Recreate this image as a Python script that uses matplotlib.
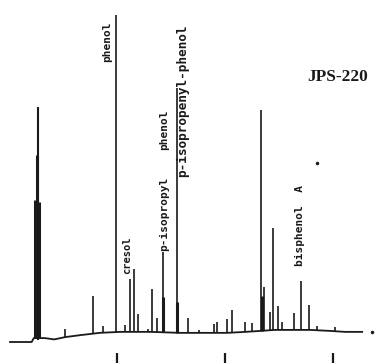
import numpy as np
import matplotlib
matplotlib.use("Agg")
import matplotlib.pyplot as plt

# retention time (min) and detector signal (% of phenol peak)
base_t = [0.1, 2.1, 2.3, 3.3, 4.2, 5.2, 6.6, 8.4, 10.3, 13.1, 15.8, 17.7, 20.2, 21.9, 23.3, 24.6, 26.0, 27.9, 29.7, 31.1, 32.7]
base_s = [0.0, 0.0, 1.2, 1.2, 0.8, 1.5, 2.1, 2.8, 3.1, 3.1, 2.8, 2.8, 2.8, 3.1, 3.4, 3.7, 3.7, 3.7, 3.4, 3.1, 3.1]

peak_t = [5.19, 7.78, 8.70, 9.87, 10.74, 11.20, 11.57, 11.94, 12.87, 13.24, 13.70,
          14.26, 15.56, 16.57, 17.59, 19.00, 19.25, 20.19, 20.65, 21.85, 22.50,
          23.33, 23.61, 24.17, 24.44, 24.91, 25.28, 26.39, 27.04, 27.78, 28.52, 30.19]
peak_s = [4.0, 14.1, 4.9, 100.0, 5.2, 19.3, 22.3, 8.6, 4.0, 16.2, 7.3,
          27.5, 77.7, 7.3, 3.7, 5.5, 6.1, 7.0, 9.8, 6.1, 5.8,
          70.9, 16.8, 9.2, 34.9, 11.0, 6.1, 8.9, 18.7, 11.3, 4.9, 4.6]

# broad / overloaded parts drawn thicker (solvent front and peak bases)
thick_t = [2.41, 2.55, 2.75, 14.22, 15.58, 23.40]
thick_s = [43.4, 57.2, 42.8, 13.8, 12.2, 14.0]
solvent_t = 2.69
solvent_s = 71.9

labels = ["phenol", "cresol", "p-isopropyl", "phenol", "p-isopropenyl-phenol", "bisphenol  A"]
label_t = [9.07, 10.93, 14.35, 14.35, 16.11, 26.94]
label_s = [91.7, 26.6, 39.1, 64.8, 73.7, 35.5]
label_size = [8, 7.5, 8, 8, 9.2, 8]

sample = "JPS-220"
tick_t = [10, 20, 30]

ink = "#1a1a1a"

fig = plt.figure(figsize=(3.84, 3.63), dpi=100)
ax = fig.add_axes([0, 0, 1, 1])

# baseline drift
ax.plot(base_t, base_s, color=ink, lw=1.3)

# peaks sit on the baseline
bottom = np.interp(peak_t, base_t, base_s)
ax.vlines(peak_t, bottom, peak_s, color=ink, lw=1.2)
bottom = np.interp(thick_t, base_t, base_s)
ax.vlines(thick_t, bottom, thick_s, color=ink, lw=2.2)
ax.vlines([solvent_t], [0.5], [solvent_s], color=ink, lw=1.5)

# small specks on the scan
ax.plot([28.52, 33.61], [54.7, 3.1], ls="none", marker="o", ms=1.5, color=ink)

for txt, t, s, fs in zip(labels, label_t, label_s, label_size):
    ax.text(t, s, txt, rotation=90, ha="center", va="center", fontsize=fs,
            family="DejaVu Sans Mono", fontweight="bold", color=ink)

ax.text(30.46, 81.0, sample, ha="center", va="center", fontsize=12.5,
        family="Liberation Serif", fontweight="bold", color=ink)

ax.set_xlim(-0.83, 34.72)
ax.set_ylim(-6.42, 104.6)
ax.set_xticks(tick_t)
ax.set_yticks([])
ax.tick_params(axis="x", direction="in", length=7, width=1.6, color=ink, labelbottom=False)
for sp in ax.spines.values():
    sp.set_visible(False)

plt.savefig("out.png", dpi=100)
